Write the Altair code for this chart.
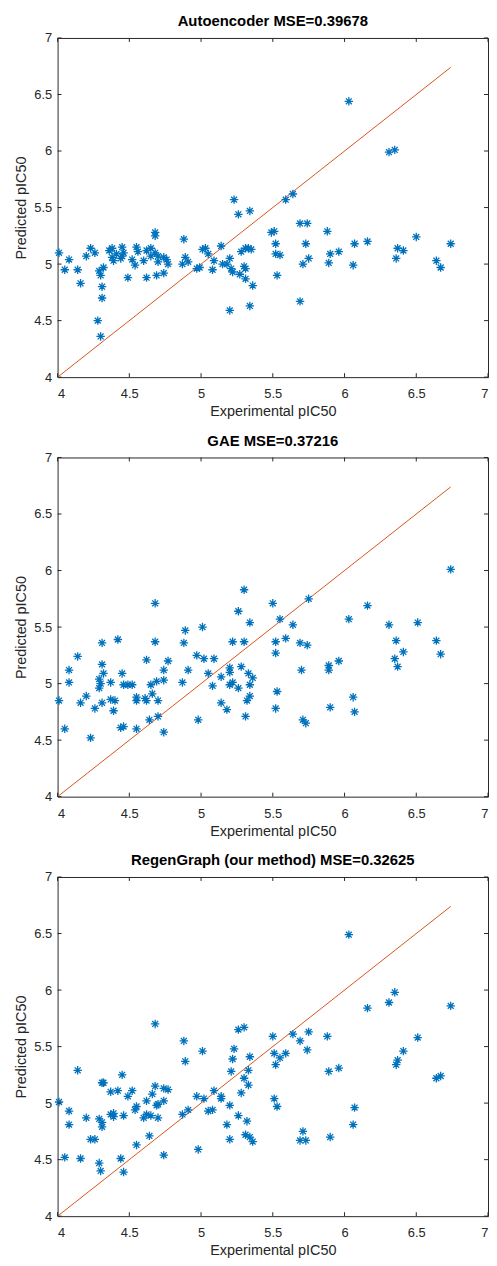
import altair as alt
import pandas as pd

# ---------------- data ----------------
TICKS = [4, 4.5, 5, 5.5, 6, 6.5, 7]

TITLES = [
    "Autoencoder MSE=0.39678",
    "GAE MSE=0.37216",
    "RegenGraph (our method) MSE=0.32625",
]

x_ae = [4.01, 4.05, 4.08, 4.14, 4.16, 4.20, 4.23, 4.26, 4.29, 4.30, 4.32, 4.31, 4.31, 4.28, 4.30,
        4.36, 4.38, 4.38, 4.39, 4.41, 4.45, 4.45, 4.46, 4.44, 4.49, 4.52, 4.55, 4.56, 4.54, 4.60,
        4.62, 4.65, 4.65, 4.62, 4.68, 4.68, 4.68, 4.70, 4.70, 4.69, 4.74, 4.74, 4.77, 4.76, 4.88,
        4.87, 4.89, 4.91, 4.97, 4.99, 5.01, 5.03, 5.05, 5.08, 5.09, 5.14, 5.15, 5.18, 5.20, 5.21,
        5.22, 5.20, 5.26, 5.34, 5.27, 5.28, 5.30, 5.31, 5.31, 5.31, 5.33, 5.35, 5.36, 5.34, 5.49,
        5.51, 5.52, 5.52, 5.55, 5.53, 5.69, 5.74, 5.73, 5.75, 5.71, 5.69, 5.88, 5.90, 5.89, 5.96,
        6.06, 6.07, 6.16, 6.36, 6.37, 6.41, 6.50, 6.64, 6.67, 6.74, 6.03, 6.31, 6.35, 5.23, 5.59,
        5.64]
y_ae = [5.10, 4.95, 5.04, 4.95, 4.83, 5.07, 5.14, 5.10, 4.94, 4.90, 4.97, 4.80, 4.70, 4.50, 4.36,
        5.12, 5.14, 5.06, 5.03, 5.09, 5.15, 5.07, 5.10, 5.05, 4.88, 5.04, 5.15, 5.11, 4.99, 5.03,
        5.12, 5.14, 5.07, 4.88, 5.28, 5.25, 5.10, 5.07, 5.02, 4.90, 5.06, 4.92, 5.00, 5.04, 5.22,
        5.00, 5.06, 5.02, 4.96, 4.97, 5.13, 5.14, 5.09, 4.95, 5.03, 5.16, 5.00, 5.00, 5.05, 4.96,
        4.93, 4.59, 5.44, 5.47, 4.91, 5.11, 4.98, 4.87, 4.96, 5.14, 5.14, 5.13, 4.81, 4.63, 5.28,
        5.29, 5.18, 5.09, 5.08, 4.90, 5.36, 5.36, 5.18, 5.05, 5.00, 4.67, 5.29, 5.09, 5.01, 5.11,
        4.99, 5.18, 5.20, 5.05, 5.14, 5.12, 5.24, 5.03, 4.97, 5.18, 6.44, 5.99, 6.01, 5.57, 5.57,
        5.62]

x_gae = [6.74, 5.30, 4.68, 5.50, 5.75, 5.26, 6.16, 5.34, 5.55, 5.64, 6.03, 6.31, 6.51, 4.89, 5.01,
         4.42, 4.31, 4.68, 4.88, 5.22, 5.30, 5.52, 5.59, 5.69, 5.74, 5.52, 4.14, 4.97, 5.02, 5.09,
         4.62, 4.77, 4.31, 4.08, 4.32, 4.45, 4.74, 4.91, 5.05, 5.14, 5.20, 5.20, 5.28, 5.33, 5.36,
         4.29, 4.08, 4.30, 4.37, 4.46, 4.49, 4.52, 4.65, 4.69, 4.74, 4.87, 5.08, 5.20, 5.22, 5.26,
         5.34, 4.29, 4.66, 5.53, 4.20, 4.01, 4.16, 4.31, 4.37, 4.40, 4.55, 4.55, 4.61, 4.62, 4.70,
         5.14, 5.32, 5.34, 6.06, 4.26, 4.39, 5.18, 5.52, 5.90, 6.07, 4.64, 4.70, 4.98, 5.31, 5.71,
         5.73, 4.05, 4.44, 4.46, 4.55, 4.74, 4.23, 5.89, 5.89, 5.96, 5.70, 6.36, 6.35, 6.37, 6.41,
         6.64, 6.67]
y_gae = [6.01, 5.83, 5.71, 5.71, 5.75, 5.64, 5.69, 5.54, 5.57, 5.52, 5.57, 5.52, 5.54, 5.47, 5.50,
         5.39, 5.36, 5.37, 5.36, 5.37, 5.37, 5.37, 5.40, 5.36, 5.34, 5.27, 5.24, 5.25, 5.22, 5.22,
         5.21, 5.20, 5.17, 5.12, 5.09, 5.09, 5.12, 5.12, 5.09, 5.06, 5.14, 5.10, 5.15, 5.09, 5.05,
         5.04, 5.01, 5.00, 5.01, 4.99, 4.99, 4.99, 4.99, 5.02, 5.03, 5.01, 4.98, 4.99, 5.01, 4.96,
         4.99, 4.96, 4.91, 4.93, 4.89, 4.85, 4.83, 4.83, 4.86, 4.85, 4.88, 4.85, 4.87, 4.85, 4.85,
         4.83, 4.85, 4.89, 4.88, 4.78, 4.76, 4.77, 4.78, 4.79, 4.75, 4.68, 4.71, 4.68, 4.71, 4.68,
         4.65, 4.60, 4.61, 4.62, 4.60, 4.57, 4.52, 5.16, 5.12, 5.20, 5.12, 5.38, 5.22, 5.15, 5.28,
         5.38, 5.26]

x_rg = [6.03, 6.35, 6.31, 6.16, 6.74, 4.68, 4.88, 5.26, 5.30, 5.50, 5.64, 5.69, 5.75, 5.88, 6.51,
        5.01, 5.23, 5.22, 5.34, 4.89, 5.51, 5.55, 5.52, 5.59, 5.74, 6.41, 6.37, 6.36, 5.21, 5.33,
        5.30, 5.33, 5.28, 5.89, 5.96, 6.64, 6.67, 4.14, 4.45, 4.31, 4.32, 4.37, 4.42, 4.52, 4.49,
        4.68, 4.66, 4.74, 4.77, 4.62, 4.74, 4.69, 4.70, 4.97, 5.02, 5.09, 5.14, 5.14, 5.20, 5.08,
        5.05, 4.91, 4.87, 5.26, 5.32, 5.18, 5.31, 5.34, 5.36, 5.20, 5.51, 5.53, 5.71, 5.69, 5.73,
        5.90, 6.07, 6.06, 4.98, 4.01, 4.08, 4.08, 4.20, 4.29, 4.31, 4.31, 4.37, 4.39, 4.39, 4.46,
        4.54, 4.55, 4.60, 4.62, 4.65, 4.70, 4.23, 4.26, 4.64, 4.55, 4.05, 4.16, 4.29, 4.30, 4.44,
        4.46, 4.74]
y_rg = [6.49, 5.98, 5.89, 5.84, 5.86, 5.70, 5.55, 5.65, 5.67, 5.59, 5.61, 5.55, 5.63, 5.59, 5.58,
        5.46, 5.48, 5.39, 5.41, 5.37, 5.44, 5.40, 5.34, 5.44, 5.47, 5.46, 5.38, 5.34, 5.28, 5.29,
        5.22, 5.16, 5.09, 5.28, 5.31, 5.22, 5.24, 5.29, 5.25, 5.18, 5.18, 5.10, 5.11, 5.11, 5.06,
        5.15, 5.08, 5.13, 5.12, 5.02, 5.02, 4.98, 4.99, 5.06, 5.04, 5.11, 5.06, 5.04, 4.98, 4.94,
        4.93, 4.94, 4.90, 4.89, 4.84, 4.81, 4.72, 4.70, 4.66, 4.68, 5.04, 4.97, 4.75, 4.67, 4.67,
        4.70, 4.96, 4.81, 4.59, 5.01, 4.93, 4.81, 4.87, 4.86, 4.83, 4.79, 4.90, 4.91, 4.88, 4.89,
        4.94, 4.97, 4.87, 4.90, 4.89, 4.87, 4.68, 4.68, 4.71, 4.63, 4.52, 4.51, 4.47, 4.40, 4.51,
        4.39, 4.54]

# ---------------- styling ----------------
W, H = 434, 342
BLUE = "#0072BD"
ORANGE = "#D95319"
AX = "#262626"
FONT = "Liberation Sans"
TICK_LEN = 4
STAR = "M-1,0L1,0M0,-1L0,1M-0.7,-0.7L0.7,0.7M-0.7,0.7L0.7,-0.7"


def panel(title, xs, ys):
    pts = pd.DataFrame({"x": xs, "y": ys})
    lo, hi = min(xs), max(xs)
    diag = pd.DataFrame({"x": [lo, hi], "y": [lo, hi]})
    tk = pd.DataFrame({"t": TICKS})

    sx = alt.Scale(domain=[4, 7], nice=False, zero=False)
    sy = alt.Scale(domain=[4, 7], nice=False, zero=False)
    xaxis = alt.Axis(values=TICKS, format="~g", ticks=False, domain=False, grid=False,
                     labelPadding=11, labelFontSize=13, labelColor=AX, labelFont=FONT,
                     title="Experimental pIC50", titleFont=FONT, titleFontSize=14.5,
                     titleFontWeight="normal", titleColor=AX, titlePadding=4)
    yaxis = alt.Axis(values=TICKS, format="~g", ticks=False, domain=False, grid=False,
                     labelPadding=6, labelFontSize=13, labelColor=AX, labelFont=FONT,
                     minExtent=24, maxExtent=24,
                     title="Predicted pIC50", titleFont=FONT, titleFontSize=14.5,
                     titleFontWeight="normal", titleColor=AX, titlePadding=5)

    X = lambda f: alt.X(f, scale=sx, axis=xaxis)
    Y = lambda f: alt.Y(f, scale=sy, axis=yaxis)

    line = alt.Chart(diag).mark_line(color=ORANGE, strokeWidth=1).encode(x=X("x:Q"), y=Y("y:Q"))
    points = alt.Chart(pts).mark_point(shape=STAR, size=72, filled=False, color=BLUE,
                                       strokeWidth=1.3, opacity=1).encode(x=X("x:Q"), y=Y("y:Q"))
    bottom = alt.Chart(tk).mark_rule(color=AX, strokeWidth=1).encode(
        x=X("t:Q"), y=alt.value(H), y2=alt.value(H - TICK_LEN))
    top = alt.Chart(tk).mark_rule(color=AX, strokeWidth=1).encode(
        x=X("t:Q"), y=alt.value(0), y2=alt.value(TICK_LEN))
    left = alt.Chart(tk).mark_rule(color=AX, strokeWidth=1).encode(
        y=Y("t:Q"), x=alt.value(0), x2=alt.value(TICK_LEN))
    right = alt.Chart(tk).mark_rule(color=AX, strokeWidth=1).encode(
        y=Y("t:Q"), x=alt.value(W), x2=alt.value(W - TICK_LEN))

    return alt.layer(line, points, bottom, top, left, right).properties(
        width=W, height=H,
        title=alt.TitleParams(title, font=FONT, fontSize=15, fontWeight="bold",
                              color="black", offset=3, anchor="middle"),
    )


chart = alt.vconcat(
    panel(TITLES[0], x_ae, y_ae),
    panel(TITLES[1], x_gae, y_gae),
    panel(TITLES[2], x_rg, y_rg),
    spacing=14,
).properties(
    padding={"left": 5, "top": 0, "right": 0, "bottom": 0}
).configure_view(stroke=AX, strokeWidth=1)

chart.save("out.html", embed_options={"renderer": "svg", "actions": False})
